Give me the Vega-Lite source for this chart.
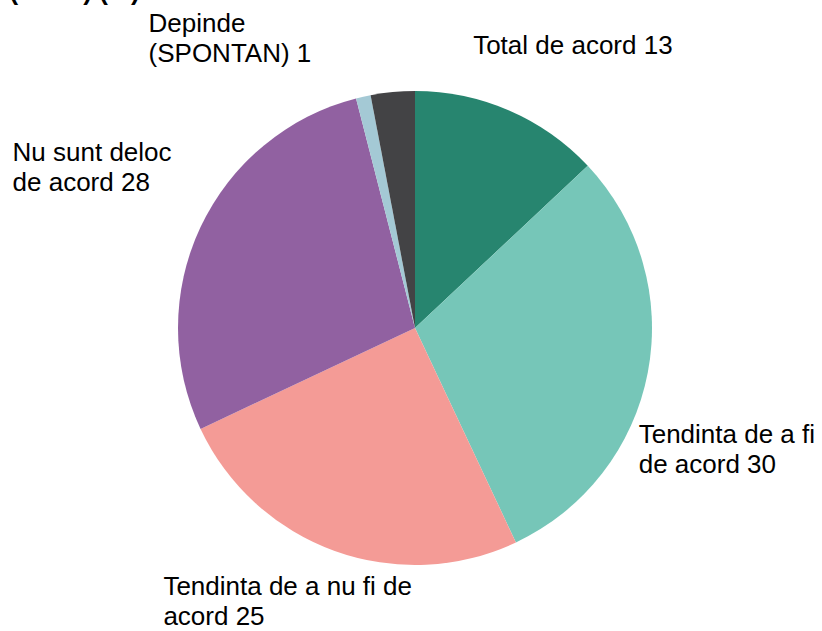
{
  "$schema": "https://vega.github.io/schema/vega-lite/v6.json",
  "width": 814,
  "height": 606,
  "autosize": {"type": "none"},
  "padding": {"left": 8, "top": 25, "right": 0, "bottom": 0},
  "background": "white",
  "title": {"text": "(UE27) (%)", "anchor": "start", "fontSize": 26, "fontWeight": "bold", "font": "Liberation Sans", "baseline": "alphabetic", "offset": 0, "dx": 67, "dy": 57, "color": "black"},
  "config": {"view": {"stroke": null}, "text": {"font": "Liberation Sans", "fontSize": 26, "lineHeight": 30, "color": "black"}},
  "data": {"values": [
    {"cat": "Total de acord", "value": 13, "ord": 1, "label": "Total de acord 13"},
    {"cat": "Tendinta de a fi de acord", "value": 30, "ord": 2, "label": "Tendinta de a fi\nde acord 30"},
    {"cat": "Tendinta de a nu fi de acord", "value": 25, "ord": 3, "label": "Tendinta de a nu fi de\nacord 25"},
    {"cat": "Nu sunt deloc de acord", "value": 28, "ord": 4, "label": "Nu sunt deloc\nde acord 28"},
    {"cat": "Depinde (SPONTAN)", "value": 1, "ord": 5, "label": "Depinde\n(SPONTAN) 1"},
    {"cat": "Nu stiu", "value": 3, "ord": 6, "label": ""}
  ]},
  "encoding": {
    "theta": {"field": "value", "type": "quantitative", "stack": true},
    "order": {"field": "ord", "type": "quantitative"}
  },
  "layer": [
    {
      "mark": {"type": "arc", "outerRadius": 237},
      "encoding": {
        "color": {"field": "cat", "type": "nominal", "legend": null,
          "scale": {"domain": ["Total de acord", "Tendinta de a fi de acord", "Tendinta de a nu fi de acord", "Nu sunt deloc de acord", "Depinde (SPONTAN)", "Nu stiu"],
                    "range": ["#27856f", "#76c6b8", "#f49b96", "#9161a1", "#a4c9d5", "#434345"]}}
      }
    },
    {
      "mark": {"type": "text", "radius": 300, "align": "left", "baseline": "alphabetic", "lineBreak": "\n", "dx": -61, "dy": 1},
      "encoding": {"text": {"condition": {"test": "datum.ord === 1", "field": "label"}, "value": ""}}
    },
    {
      "mark": {"type": "text", "radius": 300, "align": "left", "baseline": "alphabetic", "lineBreak": "\n", "dx": -71, "dy": 59},
      "encoding": {"text": {"condition": {"test": "datum.ord === 2", "field": "label"}, "value": ""}}
    },
    {
      "mark": {"type": "text", "radius": 300, "align": "left", "baseline": "alphabetic", "lineBreak": "\n", "dx": -150, "dy": -15},
      "encoding": {"text": {"condition": {"test": "datum.ord === 3", "field": "label"}, "value": ""}}
    },
    {
      "mark": {"type": "text", "radius": 300, "align": "left", "baseline": "alphabetic", "lineBreak": "\n", "dx": -131, "dy": -39},
      "encoding": {"text": {"condition": {"test": "datum.ord === 4", "field": "label"}, "value": ""}}
    },
    {
      "mark": {"type": "text", "radius": 300, "align": "left", "baseline": "alphabetic", "lineBreak": "\n", "dx": -201, "dy": -3},
      "encoding": {"text": {"condition": {"test": "datum.ord === 5", "field": "label"}, "value": ""}}
    }
  ]
}
